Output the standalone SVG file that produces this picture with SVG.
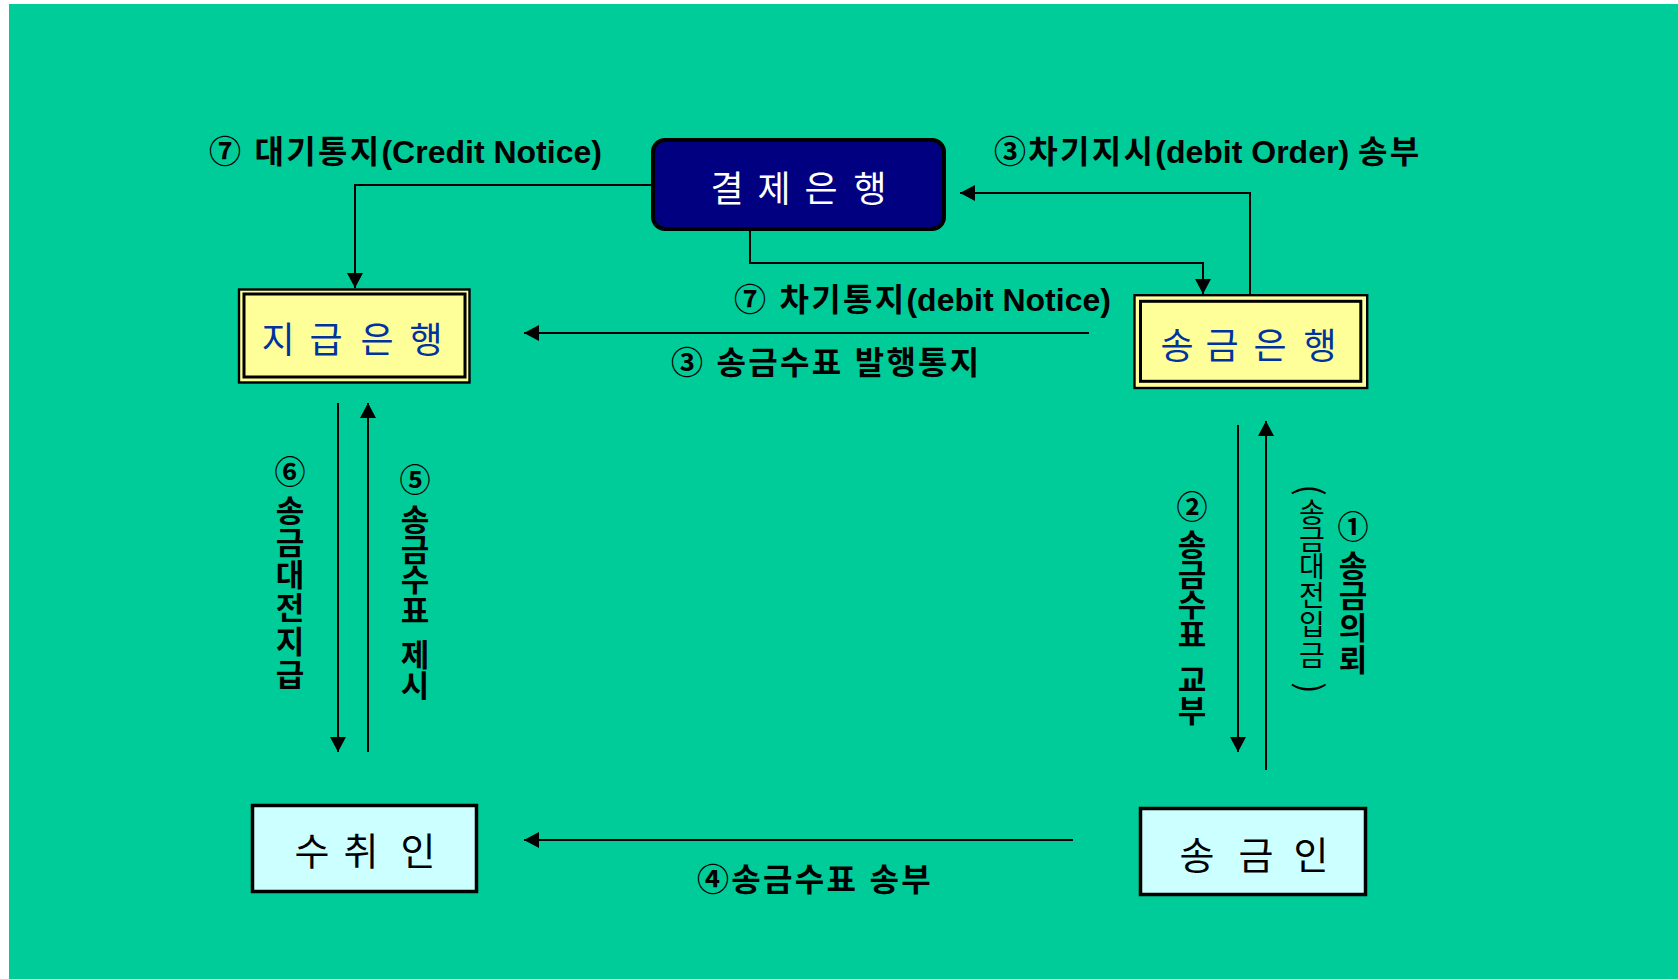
<svg xmlns="http://www.w3.org/2000/svg" width="1678" height="979" viewBox="0 0 1678 979">
<style>
.lbl{font-family:"Liberation Sans","Noto Sans CJK KR",sans-serif;font-size:32px;font-weight:bold;fill:#000}
.ko{letter-spacing:2.3px}
.vl{font-family:"Noto Sans CJK KR",sans-serif;font-size:31px;font-weight:bold;fill:#000;text-anchor:middle;dominant-baseline:central}
.vthin{font-family:"Noto Sans CJK KR",sans-serif;font-size:28px;font-weight:normal;fill:#000;text-anchor:middle;dominant-baseline:central}
.par{font-family:"Noto Sans CJK KR",sans-serif;font-size:34px;font-weight:normal;fill:#000;text-anchor:middle;dominant-baseline:central}
.bt{font-family:"Noto Sans CJK KR",sans-serif;font-size:36px;text-anchor:middle;dominant-baseline:central}
.conn{fill:none;stroke:#000;stroke-width:2;marker-end:url(#ah)}
.ybox{fill:#FFFF99;stroke:#000}
.cbox{fill:#CCFFFF;stroke:#000;stroke-width:3.5}
</style>
<defs>
<marker id="ah" markerUnits="userSpaceOnUse" viewBox="0 0 16 16" markerWidth="16" markerHeight="16" refX="15" refY="8" orient="auto">
<path d="M0,0 L15,8 L0,16 z" fill="#000"/>
</marker>
</defs>
<rect x="0" y="0" width="1678" height="979" fill="#fff"/>
<rect x="9" y="4" width="1669" height="975" fill="#00CC99"/>

<g id="connectors">
<path class="conn" d="M653,185 H355 V288"/>
<path class="conn" d="M750,229 V263 H1203 V294"/>
<path class="conn" d="M1250,295 V193 H960"/>
<path class="conn" d="M1089,333 H524"/>
<path class="conn" d="M338,403 V752"/>
<path class="conn" d="M368,752 V403"/>
<path class="conn" d="M1238,425 V752"/>
<path class="conn" d="M1266,770 V421"/>
<path class="conn" d="M1073,840 H524"/>
</g>

<g id="settlement-bank">
<rect x="653" y="140" width="291" height="89" rx="12" fill="#000080" stroke="#000" stroke-width="4"/>
<text class="bt" fill="#fff" x="727 750 774 797 821 845 870" y="186">결 제 은 행</text>
</g>

<g id="paying-bank">
<rect class="ybox" x="239" y="289.5" width="230.5" height="93" stroke-width="2.4"/>
<rect x="244" y="294" width="221" height="83" fill="none" stroke="#000" stroke-width="3"/>
<text class="bt" fill="#0033A0" x="278 302 326 351 377 401 426" y="337">지 급 은 행</text>
</g>

<g id="remitting-bank">
<rect class="ybox" x="1134.5" y="295.2" width="232.7" height="92.8" stroke-width="2.4"/>
<rect x="1140.5" y="301.3" width="220.3" height="80" fill="none" stroke="#000" stroke-width="3"/>
<text class="bt" fill="#0033A0" x="1177 1199 1222 1246 1270 1295 1320" y="343">송 금 은 행</text>
</g>

<g id="payee">
<rect class="cbox" x="252.5" y="805.5" width="224" height="86"/>
<text class="bt" fill="#000" style="font-size:38px" x="312 336 361 389 418" y="848">수 취 인</text>
</g>

<g id="remitter">
<rect class="cbox" x="1140.5" y="808.5" width="225" height="86"/>
<text class="bt" fill="#000" style="font-size:38px" x="1197 1226 1256 1283 1311" y="852">송 금 인</text>
</g>

<g id="labels">
<text class="lbl" x="209" y="163"><tspan class="ko">⑦ 대기통지</tspan>(Credit Notice)</text>
<text class="lbl" x="994" y="163"><tspan class="ko">③차기지시</tspan>(debit Order) <tspan class="ko">송부</tspan></text>
<text class="lbl" x="734" y="311"><tspan class="ko">⑦ 차기통지</tspan>(debit Notice)</text>
<text class="lbl ko" x="671" y="374">③ 송금수표 발행통지</text>
<text class="lbl ko" x="697" y="891">④송금수표 송부</text>

<text class="vl" x="290 290 290 290 290 290 290" y="469 508 540 572 605 639 672">⑥송금대전지급</text>
<text class="vl" x="415 415 415 415 415 415 415 415" y="477 517 547 577 608 630 652 683">⑤송금수표 제시</text>
<text class="vl" x="1192 1192 1192 1192 1192 1192 1192 1192" y="504 542 572 602 632 655 677 708">②송금수표 교부</text>
<text class="vl" x="1353 1353 1353 1353 1353" y="524 563 593 625 657">①송금의뢰</text>
<g>
<text class="par" transform="rotate(90 1312 490)" x="1312" y="490">(</text>
<text class="vthin" x="1312 1312 1312 1312 1312 1312" y="511 538 565 594 623 654">송금대전입금</text>
<text class="par" transform="rotate(90 1312 688)" x="1312" y="688">)</text>
</g>
</g>
</svg>
